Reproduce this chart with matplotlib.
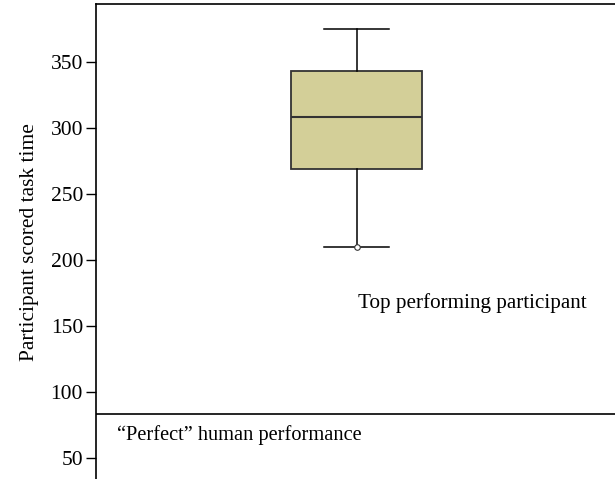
import matplotlib
matplotlib.use("Agg")
import matplotlib.pyplot as plt

# box plot summary
q1 = 268.9
median = 308.1
q3 = 343.5
whisker_low = 209.6
whisker_high = 375.3
outliers = [209.6]

perfect_level = 83
yticks = [50, 100, 150, 200, 250, 300, 350]
ylabel = "Participant scored task time"
top_label = "Top performing participant"
perfect_label = "\u201cPerfect\u201d human performance"

plt.rcParams['font.family'] = ['Liberation Serif', 'DejaVu Serif']

fig = plt.figure(figsize=(6.15, 4.79), dpi=100)
ax = fig.add_axes([95.5 / 615, 0.0, 1 - 95.5 / 615, 1 - 4.3 / 479])

stats = [dict(med=median, q1=q1, q3=q3, whislo=whisker_low, whishi=whisker_high,
              fliers=outliers, label="")]
ax.bxp(stats, positions=[1.006], widths=0.504, capwidths=0.25, patch_artist=True,
       boxprops=dict(facecolor="#d3cf98", edgecolor="#333333", linewidth=1.3),
       medianprops=dict(color="#333333", linewidth=1.5),
       whiskerprops=dict(color="black", linewidth=1.1),
       capprops=dict(color="black", linewidth=1.1),
       flierprops=dict(marker="o", markersize=4, markerfacecolor="white",
                       markeredgecolor="#333333", markeredgewidth=0.8))

ax.axhline(perfect_level, color="black", linewidth=1.2)
ax.text(1.012, 167, top_label, fontsize=15.2, va="center", ha="left")
ax.text(0.083, 67, perfect_label, fontsize=14.7, va="center", ha="left")

ax.set_xlim(0, 2)
ax.set_ylim(33.9, 393.7)
ax.set_yticks(yticks)
ax.set_xticks([])
ax.tick_params(axis="y", labelsize=15.5, length=7, width=1, direction="out", pad=2)
ax.set_ylabel(ylabel, fontsize=15.4, labelpad=8)

ax.spines["right"].set_visible(False)
ax.spines["bottom"].set_visible(False)
ax.spines["left"].set_linewidth(1.2)
ax.spines["top"].set_linewidth(1.2)

fig.savefig("out.png", dpi=100)
